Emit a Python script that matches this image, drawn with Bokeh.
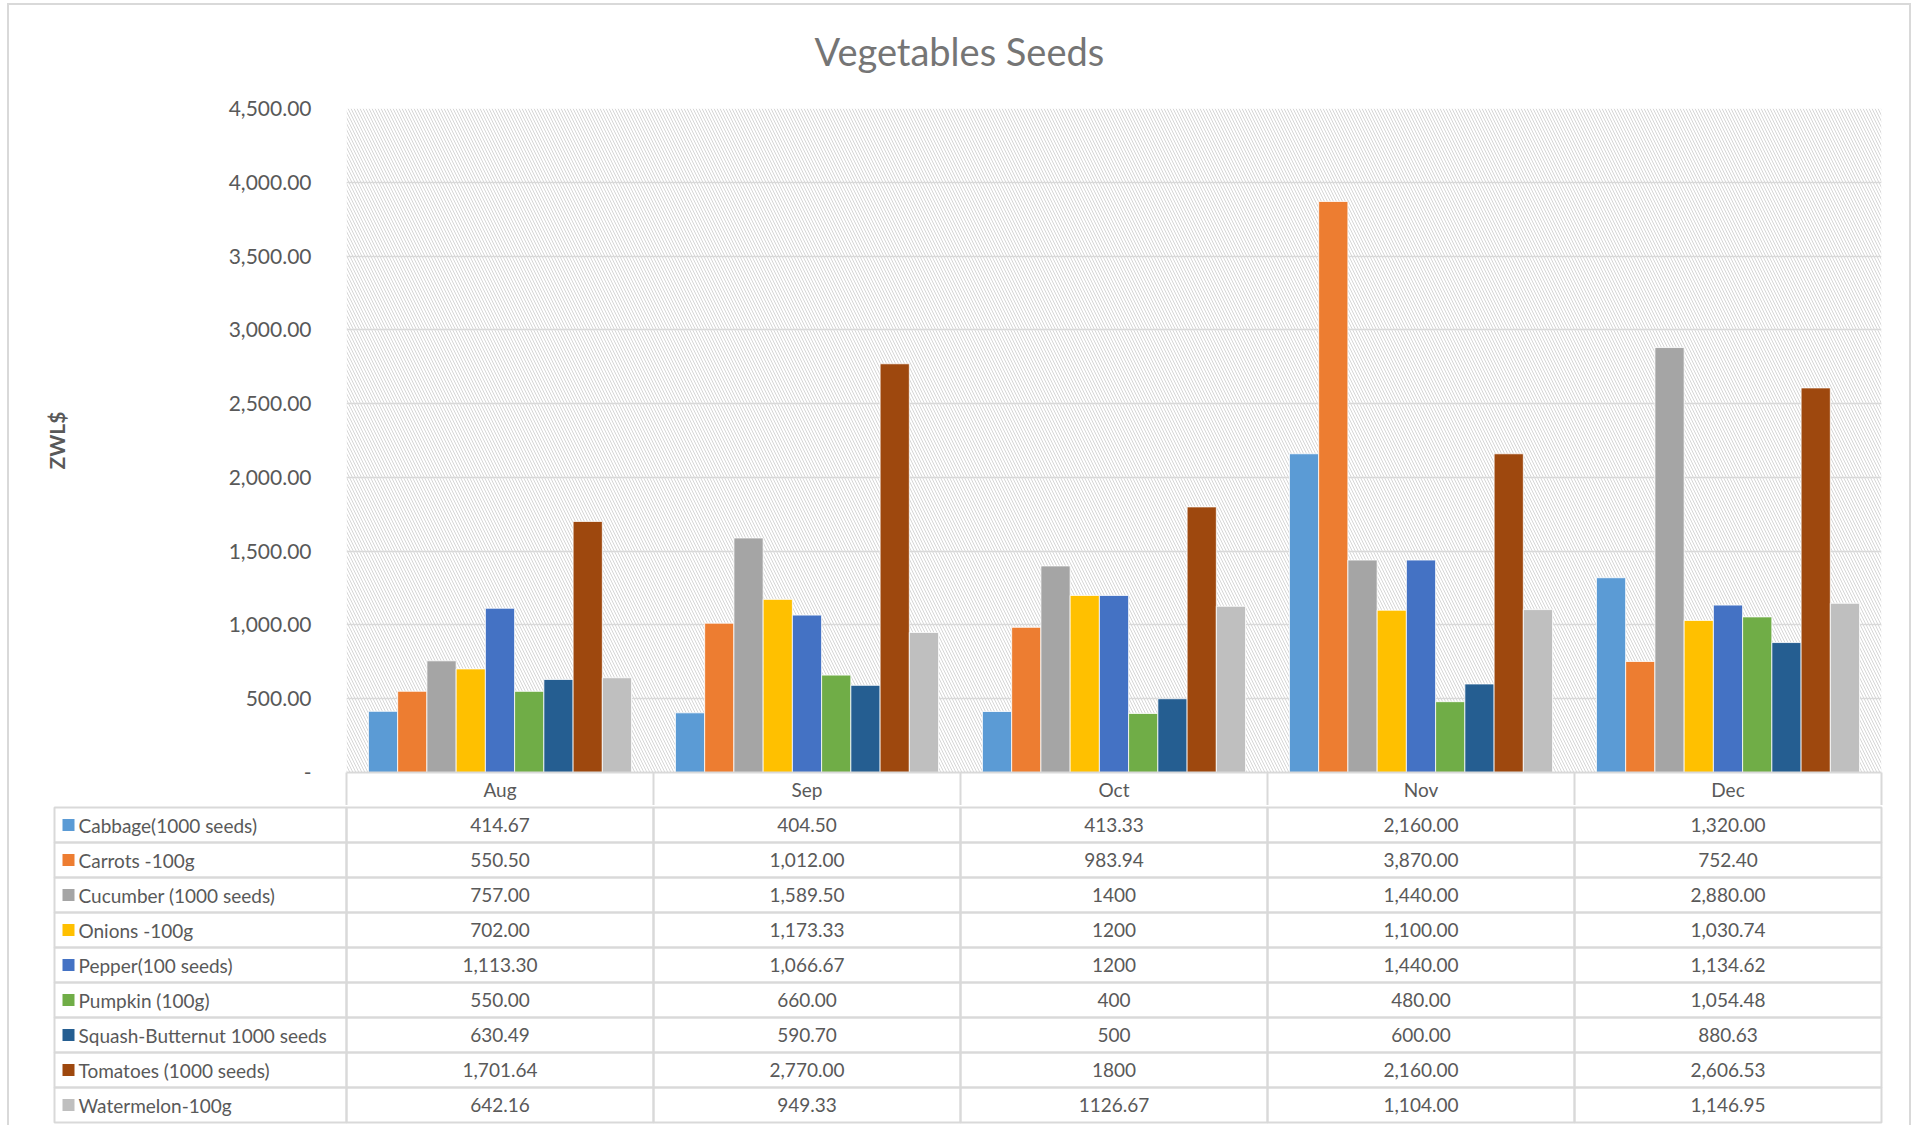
from bokeh.plotting import figure
from bokeh.models import (ColumnDataSource, Range1d, FixedTicker, CustomJSTickFormatter,
                          BoxAnnotation, Title)
from bokeh.transform import dodge
from bokeh.layouts import column
from bokeh.embed import file_html
from bokeh.resources import INLINE
from bokeh.core.properties import value

# ---------------- data ----------------
MONTHS = ["Aug", "Sep", "Oct", "Nov", "Dec"]
SERIES = ["Cabbage(1000 seeds)", "Carrots -100g", "Cucumber (1000 seeds)", "Onions -100g",
          "Pepper(100 seeds)", "Pumpkin (100g)", "Squash-Butternut 1000 seeds",
          "Tomatoes (1000 seeds)", "Watermelon-100g"]
cabbage = [414.67, 404.50, 413.33, 2160.00, 1320.00]
carrots = [550.50, 1012.00, 983.94, 3870.00, 752.40]
cucumber = [757.00, 1589.50, 1400, 1440.00, 2880.00]
onions = [702.00, 1173.33, 1200, 1100.00, 1030.74]
pepper = [1113.30, 1066.67, 1200, 1440.00, 1134.62]
pumpkin = [550.00, 660.00, 400, 480.00, 1054.48]
squash = [630.49, 590.70, 500, 600.00, 880.63]
tomatoes = [1701.64, 2770.00, 1800, 2160.00, 2606.53]
watermelon = [642.16, 949.33, 1126.67, 1104.00, 1146.95]
VALUES = [cabbage, carrots, cucumber, onions, pepper, pumpkin, squash, tomatoes, watermelon]
COLORS = ["#5B9BD5", "#ED7D31", "#A5A5A5", "#FFC000", "#4472C4", "#70AD47", "#255E91",
          "#9E480E", "#BFBFBF"]
# number format used by each month's column of the data table
MONTH_FORMATS = ["#,##0.00", "#,##0.00", "General", "#,##0.00", "#,##0.00"]
Y_TICKS = [0, 500, 1000, 1500, 2000, 2500, 3000, 3500, 4000, 4500]
TITLE = "Vegetables Seeds"
Y_LABEL = "ZWL$"

# ---------------- layout / style ----------------
FONT = "Lato"
TEXT = "#595959"
GRID = "#D9D9D9"
BORDER = 2
MARGIN_L, MARGIN_T = 7, 3
PAGE_L = MARGIN_L + BORDER            # page x of the figures' left edge
A_TOP = MARGIN_T + BORDER             # page y of the chart figure's top edge
FIG_W = 1900
FRAME_L, FRAME_R = 346, 1881          # plot area, page px
FRAME_T, FRAME_B = 108, 772
SPLIT = 805                           # page y where the table figure starts
ROW_TOP, ROW_BOT = 807, 1122          # table body, page px
B_END = 1125
TABLE_L = 54
NM = len(MONTHS)
N = len(SERIES)
ROW_H = (ROW_BOT - ROW_TOP) / N
COL_W = (FRAME_R - FRAME_L) / NM
GROUP_W = 1.0 / (N + 1.5)      # bar width in month-column units (gap width 150%)


def fmt(v, f):
    if f == "General":
        return f"{v:g}"
    return f"{v:,.2f}"


# ---------------- chart ----------------
# x is measured in month columns: month j occupies [j, j+1]
src = ColumnDataSource(dict(month=MONTHS, xc=[j + 0.5 for j in range(NM)],
                            **{f"s{i}": VALUES[i] for i in range(N)}))

pa = figure(width=FIG_W, height=SPLIT - A_TOP, x_range=Range1d(0, NM),
            y_range=Range1d(Y_TICKS[0], Y_TICKS[-1]),
            output_backend="svg", toolbar_location=None, frame_align=False,
            min_border_left=FRAME_L - PAGE_L, min_border_right=PAGE_L + FIG_W - FRAME_R,
            min_border_top=FRAME_T - A_TOP, min_border_bottom=SPLIT - FRAME_B)
pa.outline_line_color = None
pa.background_fill_color = "white"
pa.border_fill_color = "white"
pa.title.visible = False

pa.add_layout(BoxAnnotation(level="image", fill_color=None, line_color=None,
                            hatch_pattern="\\", hatch_color="#D6D6D6",
                            hatch_weight=1, hatch_scale=6))

pa.xgrid.visible = False
pa.ygrid.grid_line_color = GRID
pa.ygrid.grid_line_width = 1.5

for i in range(N):
    pa.vbar(x=dodge("xc", (i - (N - 1) / 2) * GROUP_W), top=f"s{i}",
            width=GROUP_W, source=src, fill_color=COLORS[i], line_color="white",
            line_width=0.8)

yax = pa.yaxis[0]
yax.ticker = FixedTicker(ticks=Y_TICKS)
yax.formatter = CustomJSTickFormatter(code="""
if (tick == 0) { return "-"; }
return tick.toLocaleString("en-US", {minimumFractionDigits: 2, maximumFractionDigits: 2});
""")
yax.axis_line_color = None
yax.major_tick_line_color = None
yax.minor_tick_line_color = None
yax.major_label_text_font = FONT
yax.major_label_text_font_size = "21px"
yax.major_label_text_color = TEXT
yax.major_label_standoff = 29
yax.axis_label = Y_LABEL
yax.axis_label_text_font = FONT
yax.axis_label_text_font_size = "21px"
yax.axis_label_text_font_style = "bold"
yax.axis_label_text_color = TEXT
yax.axis_label_standoff = 157

# x axis = header row of the data table: month names at column centres,
# column separators as minor ticks on the column boundaries
xax = pa.xaxis[0]
xax.ticker = FixedTicker(ticks=[j + 0.5 for j in range(NM)],
                         minor_ticks=list(range(NM + 1)))
xax.formatter = CustomJSTickFormatter(args=dict(months=MONTHS),
                                      code="return months[Math.round(tick - 0.5)];")
xax.axis_line_color = GRID
xax.axis_line_width = 2
xax.major_tick_line_color = None
xax.major_tick_in = 0
xax.major_tick_out = 0
xax.minor_tick_line_color = GRID
xax.minor_tick_line_width = 2
xax.minor_tick_in = 0
xax.minor_tick_out = SPLIT - FRAME_B
xax.major_label_text_font = FONT
xax.major_label_text_font_size = "19px"
xax.major_label_text_color = TEXT
xax.major_label_standoff = 5 - (SPLIT - FRAME_B)

# title: a thin spacer next to the frame, then the title itself further out
pa.add_layout(Title(text=" ", text_font_size="1px", standoff=10), "above")
pa.add_layout(Title(text=TITLE, text_font=FONT, text_font_size="38px",
                    text_font_style="normal", text_color="#757575", align="left",
                    vertical_align="top", offset=468, standoff=40), "above")

# ---------------- data table ----------------
LW = (FRAME_L - TABLE_L) / COL_W
x0 = (TABLE_L - 2 - FRAME_L) / COL_W
x1 = (FRAME_R + 2 - FRAME_L) / COL_W
# series row i is centred on y = i + 1, rows grow downwards
y_top = (SPLIT - ROW_TOP) / ROW_H + 0.5
y_bot = (B_END - ROW_TOP) / ROW_H + 0.5

pb = figure(width=FIG_W, height=B_END - SPLIT, x_range=Range1d(x0, x1),
            y_range=Range1d(y_bot, y_top), output_backend="svg", toolbar_location=None,
            x_axis_location=None, y_axis_location=None, frame_align=False,
            min_border_left=TABLE_L - 2 - PAGE_L, min_border_right=PAGE_L + FIG_W - FRAME_R - 2,
            min_border_top=0, min_border_bottom=0)
pb.outline_line_color = None
pb.xgrid.visible = False
pb.ygrid.visible = False
pb.title.visible = False

cx, cy, cw, vx, vy, vt = [], [], [], [], [], []
for i in range(N):
    cx.append(-LW / 2); cy.append(i + 1); cw.append(LW)
    for j in range(NM):
        cx.append(j + 0.5); cy.append(i + 1); cw.append(1.0)
        vx.append(j + 0.5); vy.append(i + 1); vt.append(fmt(VALUES[i][j], MONTH_FORMATS[j]))

pb.rect(x=cx, y=cy, width=cw, height=1, fill_color=None, line_color=GRID, line_width=2)

tstyle = dict(text_font=value(FONT), text_font_size="19px", text_color=TEXT,
              text_baseline="middle")
pb.text(x=vx, y=vy, text=vt, text_align="center", **tstyle)

rows = [i + 1 for i in range(N)]
pb.rect(x=[-LW + 14 / COL_W] * N, y=rows, width=12, height=12, width_units="screen",
        height_units="screen", fill_color=COLORS, line_color=None)
pb.text(x=[-LW + 24 / COL_W] * N, y=rows, text=SERIES, text_align="left", **tstyle)

bs = f"{BORDER}px solid {GRID}"
layout = column(pa, pb, spacing=0,
                styles={"border-top": bs, "border-left": bs, "border-right": bs,
                        "margin-left": f"{MARGIN_L}px", "margin-top": f"{MARGIN_T}px"})

open("out.html", "w").write(file_html(layout, INLINE))
